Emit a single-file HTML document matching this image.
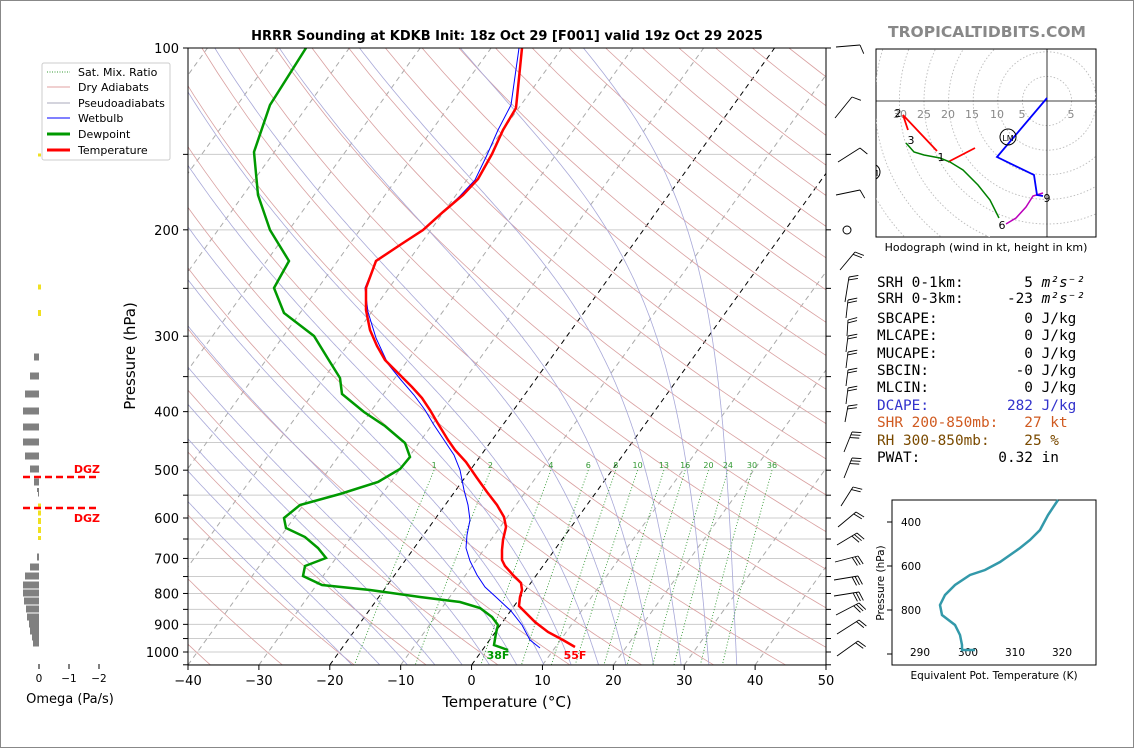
<!DOCTYPE html>
<html><head><meta charset="utf-8"><style>
body{margin:0;background:#fff;}
#wrap{position:relative;width:1134px;height:748px;overflow:hidden;font-family:"DejaVu Sans","Liberation Sans",sans-serif;}
svg text{font-family:"DejaVu Sans","Liberation Sans",sans-serif;}
svg text.mono{font-family:"DejaVu Sans Mono","Liberation Mono",monospace;font-size:14.4px;}
</style></head><body><div id="wrap">
<svg id="s" width="1134" height="748" xmlns="http://www.w3.org/2000/svg">
<rect x="0.5" y="0.5" width="1133" height="747" fill="#fff" stroke="#888"/>
<defs><clipPath id="cp"><rect x="188" y="48" width="638" height="617"/></clipPath>
<clipPath id="ch"><rect x="876" y="49" width="220" height="188"/></clipPath></defs>
<g id="bg" clip-path="url(#cp)"></g>
<g id="fg" clip-path="url(#cp)"></g>
<rect x="188" y="48" width="638" height="617" fill="none" stroke="#000" stroke-width="1"/>
<g id="ax"></g>
<text x="507" y="40" text-anchor="middle" font-size="13" font-weight="bold">HRRR Sounding at KDKB Init: 18z Oct 29 [F001] valid 19z Oct 29 2025</text>
<text x="987" y="37" text-anchor="middle" font-size="15.5" font-weight="bold" fill="#888">TROPICALTIDBITS.COM</text>
<text x="507" y="707" text-anchor="middle" font-size="15">Temperature (°C)</text>
<text transform="translate(135,356) rotate(-90)" text-anchor="middle" font-size="15">Pressure (hPa)</text>
<text x="498" y="659" font-size="11" font-weight="bold" fill="#090" text-anchor="middle">38F</text>
<text x="575" y="659" font-size="11" font-weight="bold" fill="red" text-anchor="middle">55F</text>
<rect x="42" y="63" width="128" height="97" fill="#fff" stroke="#ccc" rx="2"/>
<g font-size="11">
<line x1="47" y1="72" x2="70" y2="72" stroke="#393" stroke-dasharray="1,1.5" stroke-width="1"/><text x="78" y="76">Sat. Mix. Ratio</text>
<line x1="47" y1="87" x2="70" y2="87" stroke="#e0a0a0"/><text x="78" y="91">Dry Adiabats</text>
<line x1="47" y1="103" x2="70" y2="103" stroke="#aab"/><text x="78" y="107">Pseudoadiabats</text>
<line x1="47" y1="118" x2="70" y2="118" stroke="blue"/><text x="78" y="122">Wetbulb</text>
<line x1="47" y1="134" x2="70" y2="134" stroke="#090" stroke-width="3"/><text x="78" y="138">Dewpoint</text>
<line x1="47" y1="150" x2="70" y2="150" stroke="red" stroke-width="3"/><text x="78" y="154">Temperature</text>
</g>
<g id="om"></g>
<text x="70" y="703" text-anchor="middle" font-size="13">Omega (Pa/s)</text>
<rect x="876" y="49" width="220" height="188" fill="#fff" stroke="#000"/>
<g id="hod" clip-path="url(#ch)"></g>
<text x="986" y="251" text-anchor="middle" font-size="11">Hodograph (wind in kt, height in km)</text>
<text class="mono" x="877" y="287" xml:space="preserve">SRH 0-1km:       5 <tspan font-style="italic">m²s⁻²</tspan></text>
<text class="mono" x="877" y="303" xml:space="preserve">SRH 0-3km:     -23 <tspan font-style="italic">m²s⁻²</tspan></text>
<text class="mono" x="877" y="323" xml:space="preserve">SBCAPE:          0 J/kg</text>
<text class="mono" x="877" y="340" xml:space="preserve">MLCAPE:          0 J/kg</text>
<text class="mono" x="877" y="358" xml:space="preserve">MUCAPE:          0 J/kg</text>
<text class="mono" x="877" y="375" xml:space="preserve">SBCIN:          -0 J/kg</text>
<text class="mono" x="877" y="392" xml:space="preserve">MLCIN:           0 J/kg</text>
<text class="mono" x="877" y="410" xml:space="preserve" fill="#33c">DCAPE:         282 J/kg</text>
<text class="mono" x="877" y="427" xml:space="preserve" fill="#d05a20">SHR 200-850mb:   27 kt</text>
<text class="mono" x="877" y="445" xml:space="preserve" fill="#7a4a00">RH 300-850mb:    25 %</text>
<text class="mono" x="877" y="462" xml:space="preserve">PWAT:         0.32 in</text>
<rect x="892" y="500" width="204" height="165" fill="#fff" stroke="#000"/>
<g id="te"></g>
<text transform="translate(884,583) rotate(-90)" text-anchor="middle" font-size="10.5">Pressure (hPa)</text>
<text x="994" y="679" text-anchor="middle" font-size="10.5">Equivalent Pot. Temperature (K)</text>
</svg>
<script>
var S=document.getElementById('s'),NS='http://www.w3.org/2000/svg';
function el(p,t,a,txt){var e=document.createElementNS(NS,t);for(var k in a)e.setAttribute(k,a[k]);if(txt!==undefined)e.textContent=txt;p.appendChild(e);return e;}
function Y(p){return 48+(Math.log10(p)-2)*604;}
function X(T,y){return 188+(T+40)*7.089+0.721*(665-y);}
var bg=document.getElementById('bg'),fg=document.getElementById('fg'),ax=document.getElementById('ax');
function poly(g,pts,a){a.points=pts.map(function(q){return q[0].toFixed(1)+','+q[1].toFixed(1)}).join(' ');a.fill='none';return el(g,'polyline',a);}
for(var p=100;p<=1050;p+=50){var y=Y(p);el(bg,'line',{x1:188,x2:826,y1:y,y2:y,stroke:'#ccc','stroke-width':1});
 el(ax,'line',{x1:183,x2:188,y1:y,y2:y,stroke:'#000'});el(ax,'line',{x1:826,x2:831,y1:y,y2:y,stroke:'#000'});
 if(p%100==0)el(ax,'text',{x:179,y:y+5,'text-anchor':'end','font-size':13},p);}
for(var T=-120;T<=60;T+=10){var pts=[[X(T,665),665],[X(T,48),48]];
 poly(bg,pts,{stroke:(T==0||T==-20)?'#000':'#aaa','stroke-dasharray':'5,4','stroke-width':1});}
for(var T=-40;T<=50;T+=10){var x=188+(T+40)*7.089;el(ax,'line',{x1:x,x2:x,y1:665,y2:670,stroke:'#000'});
 el(ax,'text',{x:x,y:685,'text-anchor':'middle','font-size':13},T<0?'−'+(-T):T);}
for(var th=233;th<=533;th+=10){var pts=[];for(var p=100;p<=1060;p+=10){var Tk=th*Math.pow(p/1000,0.286);var y=Y(p);pts.push([X(Tk-273.15,y),y]);}
 poly(bg,pts,{stroke:'#d9a0a0','stroke-width':0.8});}
function es(T){return 6.112*Math.exp(17.67*T/(T+243.5));}
function gam(T,p){var Tk=T+273.15,Rd=287,Lv=2.5e6,cp=1004,eps=0.622;var rs=eps*es(T)/(p-es(T));
 return (Rd*Tk+Lv*rs)/(cp+Lv*Lv*rs*eps/(Rd*Tk*Tk))/p;}
for(var T0=-20;T0<=36;T0+=4){var T=T0,p,up=[];for(p=1000;p>=100;p-=2){var y=Y(p);up.push([X(T,y),y]);T-=gam(T,p)*2;}
 T=T0;var dn=[];for(p=1000;p<=1060;p+=2){var y=Y(p);dn.push([X(T,y),y]);T+=gam(T,p)*2;}
 poly(bg,dn.reverse().concat(up),{stroke:'#a8a8d8','stroke-width':0.8});}
[1,2,4,6,8,10,13,16,20,24,30,36].forEach(function(w){var pts=[];for(var p=500;p<=1060;p+=10){var e=w*p/(622+w),l=Math.log(e/6.112);var Td=243.5*l/(17.67-l);var y=Y(p);pts.push([X(Td,y),y]);}
 poly(bg,pts,{stroke:'#393','stroke-dasharray':'1,2','stroke-width':0.9});
 el(fg,'text',{x:pts[0][0],y:Y(500)-2,'text-anchor':'middle','font-size':8,fill:'#393'},w);});
poly(fg,[[508,650],[494,645],[496,633],[498,625],[492,617],[480,608],[460,602],[420,597],[370,590],[322,585],[303,576],[305,566],[326,558],[318,548],[305,537],[286,528],[284,518],[300,505],[340,494],[378,482],[400,469],[410,457],[405,443],[385,426],[364,412],[342,394],[340,378],[330,362],[314,336],[284,313],[274,288],[289,261],[270,230],[258,195],[254,152],[270,105],[306,48]],{stroke:'#090','stroke-width':2.5});
poly(fg,[[540,648],[530,640],[522,625],[511,611],[497,598],[485,587],[477,575],[470,561],[466,548],[467,535],[470,520],[468,505],[464,490],[460,470],[454,455],[444,440],[434,425],[425,410],[414,395],[401,380],[388,364],[376,338],[368,312],[365,288],[376,261],[400,245],[423,230],[443,212],[460,196],[475,180],[487,155],[498,130],[511,105],[519,48]],{stroke:'blue','stroke-width':1});
poly(fg,[[575,647],[563,640],[548,632],[535,622],[525,612],[519,606],[520,597],[522,590],[521,583],[513,575],[505,566],[502,560],[502,550],[503,540],[506,527],[504,517],[497,505],[487,492],[477,478],[466,462],[455,450],[448,440],[437,422],[430,410],[422,398],[412,387],[398,373],[385,360],[377,346],[370,330],[366,310],[366,288],[376,261],[400,245],[423,230],[443,212],[463,195],[478,179],[492,154],[503,130],[516,108],[522,48]],{stroke:'red','stroke-width':2.5});
var B=[[836,47,860,45,1],[835,118,852,97,1],[838,162,860,148,1],[836,195,860,190,1],
[840,270,855,252,2],[845,302,849,277,2],[846,318,848,300,2],[847,336,848,320,2],[846,352,848,336,2],[846,368,848,352,2],[846,386,848,370,2],[846,404,848,388,2],[845,422,848,406,2],
[844,452,852,432,3],[844,478,852,458,3],[841,506,853,487,2],[838,527,856,512,2],[837,545,857,533,3],[835,562,858,556,3],[834,580,858,576,3],[834,596,859,592,3],[836,615,859,603,3],[837,634,859,620,2],[837,656,858,641,2]];
B.forEach(function(b){el(ax,'line',{x1:b[0],y1:b[1],x2:b[2],y2:b[3],stroke:'#000','stroke-width':0.9});
 var dx=b[2]-b[0],dy=b[3]-b[1],L=Math.hypot(dx,dy),ux=dx/L,uy=dy/L;
 var nx=uy,ny=-ux; if(nx<0){nx=-nx;ny=-ny;}
 for(var i=0;i<b[4];i++){var hx=b[2]-ux*i*3,hy=b[3]-uy*i*3;el(ax,'line',{x1:hx,y1:hy,x2:hx+nx*9+ux*3,y2:hy+ny*9+uy*3,stroke:'#000','stroke-width':0.9});}});
el(ax,'circle',{cx:847,cy:230,r:4,fill:'none',stroke:'#000'});
var om=document.getElementById('om');
[[357,34],[376,30],[394,25],[411,23],[427,23],[442,23],[456,25],[469,30],[482,34],[493,38],[557,37],[567,30],[576,25],[585,23],[593,23],[601,24],[609,26],[617,27],[624,29],[631,30],[637,32],[643,33]].forEach(function(b){el(om,'rect',{x:b[1],y:b[0]-3.5,width:39-b[1],height:7,fill:'#808080'});});
el(om,'rect',{x:37,y:488,width:2,height:4,fill:'#808080'});
[[155,3],[287,5],[313,6],[506,5],[513,5],[521,6],[530,6],[538,4]].forEach(function(b){el(om,'rect',{x:38,y:b[0]-b[1]/2,width:3,height:b[1],fill:'#f0e020'});});
el(om,'line',{x1:23,x2:99,y1:477,y2:477,stroke:'red','stroke-width':2.5,'stroke-dasharray':'7,4'});
el(om,'line',{x1:23,x2:99,y1:508,y2:508,stroke:'red','stroke-width':2.5,'stroke-dasharray':'7,4'});
el(om,'text',{x:100,y:473,'text-anchor':'end','font-size':11,'font-weight':'bold',fill:'red'},'DGZ');
el(om,'text',{x:100,y:522,'text-anchor':'end','font-size':11,'font-weight':'bold',fill:'red'},'DGZ');
[[39,'0'],[69,'−1'],[99,'−2']].forEach(function(t){el(om,'line',{x1:t[0],x2:t[0],y1:664,y2:669,stroke:'#000'});el(om,'text',{x:t[0],y:682,'text-anchor':'middle','font-size':10.5},t[1]);});
var h=document.getElementById('hod'),ox=1047,oy=101;
for(var k=1;k<=10;k++)el(h,'circle',{cx:ox,cy:oy,r:k*24.6,fill:'none',stroke:'#bbb','stroke-dasharray':'1.5,2','stroke-width':0.9});
el(h,'line',{x1:876,x2:1096,y1:oy,y2:oy,stroke:'#000','stroke-width':0.8});
el(h,'line',{x1:ox,x2:ox,y1:49,y2:237,stroke:'#000','stroke-width':0.8});
[[1071,'5'],[1022,'5'],[997,'10'],[972,'15'],[948,'20'],[924,'25'],[900,'30']].forEach(function(t){el(h,'text',{x:t[0],y:118,'text-anchor':'middle','font-size':11,fill:'#888'},t[1]);});
poly(h,[[975,148],[948,162]],{stroke:'red','stroke-width':1.8});
poly(h,[[937,151],[903,115],[908,130]],{stroke:'red','stroke-width':1.8});
poly(h,[[906,143],[914,152],[924,155],[940,158],[950,162],[963,170],[978,185],[990,200],[999,218]],{stroke:'green','stroke-width':1.5});
poly(h,[[1006,224],[1016,218],[1026,207],[1033,196],[1043,193]],{stroke:'#b0b','stroke-width':1.5});
poly(h,[[1047,98],[997,157],[1034,175],[1037,195],[1043,196]],{stroke:'blue','stroke-width':1.8});
el(h,'circle',{cx:1008,cy:137,r:8,fill:'none',stroke:'#000'});
el(h,'text',{x:1008,y:141,'text-anchor':'middle','font-size':8},'LM');
el(h,'circle',{cx:872,cy:172,r:8,fill:'none',stroke:'#000'});
el(h,'text',{x:872,y:176,'text-anchor':'middle','font-size':8},'RM');
[[898,117,'2'],[911,144,'3'],[941,161,'1'],[1002,229,'6'],[1047,202,'9']].forEach(function(t){el(h,'text',{x:t[0],y:t[1],'text-anchor':'middle','font-size':11},t[2]);});
var te=document.getElementById('te');
[[920,'290'],[968,'300'],[1015,'310'],[1062,'320']].forEach(function(t){el(te,'text',{x:t[0],y:656,'text-anchor':'middle','font-size':10.5},t[1]);});
[[522,'400'],[566,'600'],[610,'800']].forEach(function(t){el(te,'line',{x1:887,x2:892,y1:t[0],y2:t[0],stroke:'#000'});el(te,'text',{x:901,y:t[0]+4,'font-size':10.5},t[1]);});
el(te,'line',{x1:887,x2:892,y1:654,y2:654,stroke:'#000'});
poly(te,[[1058,500],[1048,515],[1040,530],[1030,540],[1020,548],[1000,562],[985,570],[970,575],[955,585],[945,595],[940,605],[942,615],[955,625],[960,635],[962,645],[962,650],[975,650]],{stroke:'#3399aa','stroke-width':2.5});
</script>
</div></body></html>
